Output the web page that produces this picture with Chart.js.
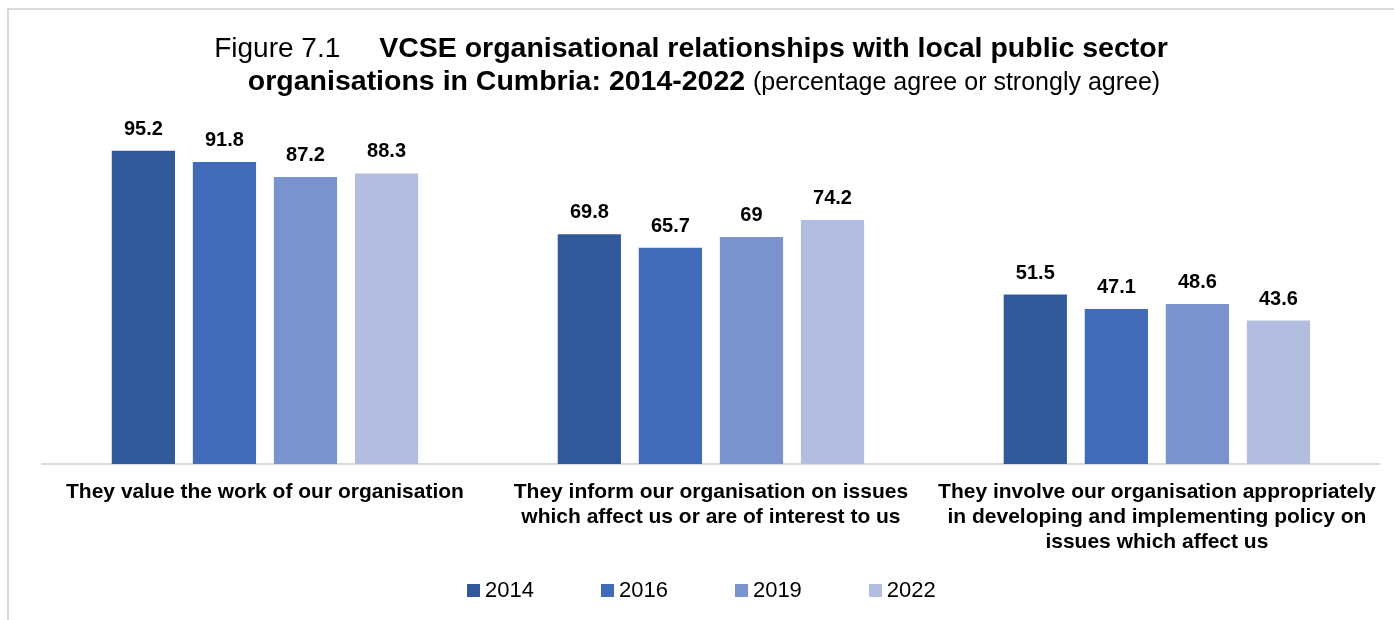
<!DOCTYPE html>
<html>
<head>
<meta charset="utf-8">
<script src="https://cdn.jsdelivr.net/npm/chart.js@4"></script>
<style>
  body { margin: 0; background: #fff; }
  #wrap { position: relative; width: 1394px; height: 620px; overflow: hidden; }
  #frame { position: absolute; left: 7px; top: 8px; right: 0; bottom: 0;
           border-left: 2px solid #d9d9d9; border-top: 2px solid #d9d9d9; }
  #myChart { position: absolute; left: 0; top: 0; }
  .title { position: absolute; width: 1394px; text-align: center;
           color: #000; white-space: nowrap; line-height: 33px;
           font-family: "Liberation Sans", Arial, sans-serif; font-size: 28px; }
  .title b { font-size: 28.5px; }
  .title .sub { font-size: 25px; }
  #legend { position: absolute; left: 467px; top: 577px; display: flex; gap: 67px;
            font: 22px "Liberation Sans", Arial, sans-serif; color: #000; line-height: 26px; }
  #legend span.item { display: flex; align-items: center; }
  #legend span.box { display: inline-block; width: 13px; height: 13px; margin-right: 5px; }
</style>
</head>
<body>
<div id="wrap">
  <div id="frame"></div>
  <canvas id="myChart" width="1394" height="620"></canvas>
  <div class="title" style="top:31px; left:-6px">Figure 7.1&nbsp;&nbsp;&nbsp;&nbsp;&nbsp;<b>VCSE organisational relationships with local public sector</b></div>
  <div class="title" style="top:64px; left:7px"><b>organisations in Cumbria: 2014-2022</b> <span class="sub">(percentage agree or strongly agree)</span></div>
  <div id="legend"></div>
</div>
<script>
const categories = [
  ['They value the work of our organisation'],
  ['They inform our organisation on issues', 'which affect us or are of interest to us'],
  ['They involve our organisation appropriately', 'in developing and implementing policy on', 'issues which affect us']
];
const years = ['2014', '2016', '2019', '2022'];
const values2014 = [95.2, 69.8, 51.5];
const values2016 = [91.8, 65.7, 47.1];
const values2019 = [87.2, 69, 48.6];
const values2022 = [88.3, 74.2, 43.6];
const colours = ['#31599a', '#3f6bb9', '#7a93cf', '#b2bddf'];

const ctx = document.getElementById('myChart');
const font = 'Liberation Sans, Arial, sans-serif';

const data = {
  labels: categories,
  datasets: [values2014, values2016, values2019, values2022].map((vals, i) => ({
    label: years[i],
    data: vals,
    backgroundColor: colours[i],
    borderWidth: 0,
    categoryPercentage: 0.727,
    barPercentage: 0.78
  }))
};

// value labels above each bar
const barValues = {
  id: 'barValues',
  afterDatasetsDraw(chart) {
    const c = chart.ctx;
    c.save();
    c.font = 'bold 20px ' + font;
    c.fillStyle = '#000';
    c.textAlign = 'center';
    c.textBaseline = 'alphabetic';
    chart.data.datasets.forEach((ds, i) => {
      chart.getDatasetMeta(i).data.forEach((bar, j) => {
        c.fillText(String(ds.data[j]), bar.x, bar.y - 16);
      });
    });
    c.restore();
  }
};

const config = {
  type: 'bar',
  data,
  plugins: [barValues],
  options: {
    responsive: false,
    animation: false,
    layout: { padding: { left: 42, right: 14, top: 135, bottom: 49 } },
    scales: {
      x: {
        grid: { display: false, drawTicks: false },
        border: { display: true, color: '#d9d9d9', width: 2 },
        ticks: {
          color: '#000',
          padding: 16,
          maxRotation: 0,
          autoSkip: false,
          font: { family: font, size: 21, weight: 'bold', lineHeight: 25 / 21 }
        }
      },
      y: {
        display: false,
        min: 0,
        max: 100
      }
    },
    plugins: {
      title: { display: false },
      tooltip: { enabled: false },
      legend: { display: false }
    }
  }
};

let myChart = new Chart(ctx, config);

// html legend from the chart's own legend items
const legendEl = document.getElementById('legend');
Chart.defaults.plugins.legend.labels.generateLabels(myChart).forEach(item => {
  const el = document.createElement('span');
  el.className = 'item';
  const box = document.createElement('span');
  box.className = 'box';
  box.style.background = item.fillStyle;
  el.appendChild(box);
  el.appendChild(document.createTextNode(item.text));
  legendEl.appendChild(el);
});
</script>
</body>
</html>
